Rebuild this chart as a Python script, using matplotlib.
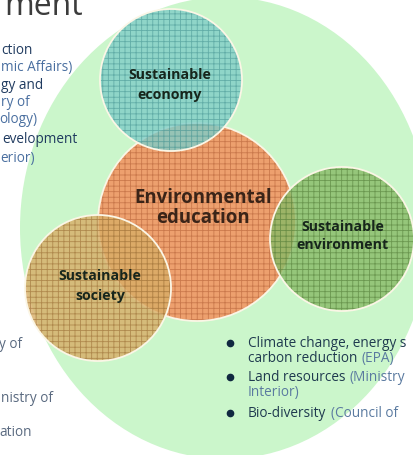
import matplotlib.pyplot as plt
from matplotlib.patches import Circle, Ellipse

plt.rcParams['font.family'] = ['Open Sans', 'DejaVu Sans']
plt.rcParams['hatch.linewidth'] = 0.6

# the four circles of the diagram (orange one first, it sits below the others)
circle_labels = ['Environmental\neducation', 'Sustainable\neconomy',
                 'Sustainable\nenvironment', 'Sustainable\nsociety']
circle_centers = [(197, 222), (171, 80), (342, 239), (98, 288)]
circle_radii = [99, 71, 72, 73]
label_pos = [(203, 208), (170, 85), (343, 236), (100, 286)]
circle_colors = ['#eda06e', '#80cdc8', '#88ba66', '#d8ad66']
grid_colors = ['#b8643a', '#4a9896', '#557f3a', '#9c6f36']
label_sizes = [13.4, 10.2, 10.2, 10.2]
label_spacing = [1.0, 1.5, 1.4, 1.5]

# bullet text on the right: (dark part, light part, is_bullet)
right_lines = [
    ('Climate change, energy s', '', True),
    ('carbon reduction', '(EPA)', False),
    ('Land resources', '(Ministry', True),
    ('', 'Interior)', False),
    ('Bio-diversity', '(Council of', True),
]
right_y = [347, 362, 381, 396, 417]

# cut-off text on the left edge: (text, right end x, baseline y, colour)
left_lines = [
    ('ction', 33, 54, '#1f3a5f'),
    ('mic Affairs)', 72, 71, '#4a6fa0'),
    ('gy and', 43, 89, '#1f3a5f'),
    ('ry of', 30, 106, '#4a6fa0'),
    ('ology)', 37, 123, '#4a6fa0'),
    ('evelopment', 78, 143, '#1f3a5f'),
    ('erior)', 35, 162, '#4a6fa0'),
    ('y of', 22, 348, '#5a6a80'),
    ('nistry of', 53, 402, '#5a6a80'),
    ('ation', 32, 436, '#5a6a80'),
]

DARK = '#1f3a4f'
LIGHT = '#5a7aa0'
FS = 9.8

fig = plt.figure(figsize=(4.14, 4.55), dpi=100)
ax = fig.add_axes([0, 0, 1, 1])
ax.set_xlim(0, 414)
ax.set_ylim(455, 0)
ax.axis('off')

# big pale green background shape
ax.add_patch(Ellipse((225, 228), 410, 462, facecolor='#cbf6cb', edgecolor='none', zorder=0))

for i, (c, r) in enumerate(zip(circle_centers, circle_radii)):
    a = 1.0 if i == 0 else 0.8
    ax.add_patch(Circle(c, r, facecolor=circle_colors[i], edgecolor='none', alpha=a, zorder=1 + 2 * i))
    ax.add_patch(Circle(c, r, facecolor='none', edgecolor=grid_colors[i], hatch='+++',
                        lw=0, alpha=0.65, zorder=1.5 + 2 * i))
    ax.add_patch(Circle(c, r, facecolor='none', edgecolor='#fbf6e6', lw=1.3, zorder=1.6 + 2 * i))

for i, lab in enumerate(circle_labels):
    col = '#3a2418' if i == 0 else '#17261c'
    ax.text(label_pos[i][0], label_pos[i][1], lab, ha='center', va='center',
            fontsize=label_sizes[i], fontweight='bold', color=col,
            linespacing=label_spacing[i], zorder=20)

# bullets on the right
for (dark, light, bullet), y in zip(right_lines, right_y):
    if bullet:
        ax.plot(230, y - 4, 'o', ms=4.5, color='#102840', zorder=20)
    t = ax.text(248, y, dark, fontsize=FS, color=DARK, va='baseline', ha='left', zorder=20)
    if light:
        if dark:
            ax.annotate(light, xy=(1, 0), xycoords=t, xytext=(3, 0), textcoords='offset points',
                        fontsize=FS, color=LIGHT, va='bottom', ha='left', zorder=20)
        else:
            ax.text(248, y, light, fontsize=FS, color=LIGHT, va='baseline', ha='left', zorder=20)

# partial text on the left
for txt, x, y, col in left_lines:
    ax.text(x, y, txt, fontsize=FS, color=col, ha='right', va='baseline', zorder=20)

ax.text(83, 15, 'ment', fontsize=23, color='#3c3c3c', ha='right', va='baseline', zorder=20)

fig.savefig('out.png', dpi=100)
